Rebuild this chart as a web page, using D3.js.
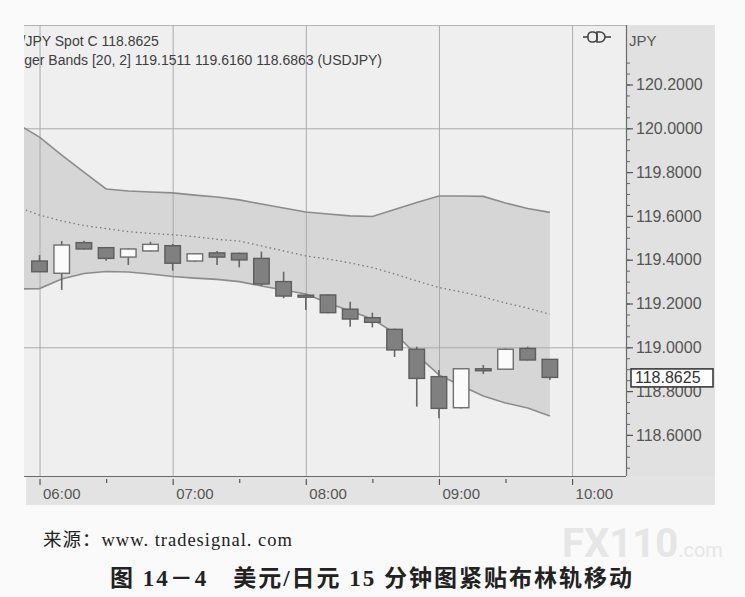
<!DOCTYPE html>
<html>
<head>
<meta charset="utf-8">
<script src="https://cdn.jsdelivr.net/npm/d3@7"></script>
<style>
  body { margin: 0; background: #fafafa; }
  svg { display: block; }
</style>
</head>
<body>
<div id="chart"></div>
<script>
// 10 分鐘一根 K 線 (06:00 - 09:50)
const times = ["06:00", "06:10", "06:20", "06:30", "06:40", "06:50",
               "07:00", "07:10", "07:20", "07:30", "07:40", "07:50",
               "08:00", "08:10", "08:20", "08:30", "08:40", "08:50",
               "09:00", "09:10", "09:20", "09:30", "09:40", "09:50"];
const open  = [119.394, 119.338, 119.478, 119.455, 119.412, 119.440,
               119.464, 119.394, 119.431, 119.429, 119.406, 119.300,
               119.238, 119.239, 119.174, 119.135, 119.082, 118.991,
               118.866, 118.724, 118.902, 118.900, 118.995, 118.945];
const high  = [119.421, 119.485, 119.487, 119.458, 119.452, 119.482,
               119.472, 119.430, 119.440, 119.432, 119.437, 119.345,
               119.242, 119.242, 119.208, 119.158, 119.085, 119.003,
               118.896, 118.905, 118.919, 118.995, 119.003, 118.947];
const low   = [119.344, 119.262, 119.447, 119.395, 119.376, 119.438,
               119.350, 119.390, 119.376, 119.365, 119.280, 119.224,
               119.170, 119.155, 119.094, 119.091, 118.956, 118.729,
               118.676, 118.720, 118.878, 118.898, 118.940, 118.851];
const close = [119.345, 119.467, 119.449, 119.406, 119.449, 119.470,
               119.384, 119.427, 119.412, 119.399, 119.289, 119.234,
               119.235, 119.158, 119.129, 119.114, 118.988, 118.858,
               118.721, 118.902, 118.900, 118.991, 118.942, 118.8625];

// 布林帶 [20, 2]
const bandTimes = ["05:50"].concat(times);
const upperBand  = [120.020, 119.960, 119.878, 119.800, 119.723, 119.714, 119.709,
                    119.705, 119.695, 119.686, 119.673, 119.654, 119.636,
                    119.618, 119.609, 119.600, 119.597, 119.629, 119.661,
                    119.691, 119.691, 119.689, 119.659, 119.634, 119.616];
const middleBand = [119.641, 119.604, 119.577, 119.556, 119.542, 119.528, 119.520,
                    119.514, 119.505, 119.493, 119.485, 119.463, 119.440,
                    119.417, 119.403, 119.385, 119.364, 119.335, 119.303,
                    119.273, 119.253, 119.230, 119.202, 119.179, 119.151];
const lowerBand  = [119.266, 119.268, 119.312, 119.337, 119.346, 119.344, 119.335,
                    119.323, 119.316, 119.310, 119.300, 119.280, 119.262,
                    119.243, 119.202, 119.166, 119.129, 119.065, 118.965,
                    118.874, 118.824, 118.778, 118.746, 118.723, 118.686];

const priceTicks = [118.6, 118.8, 119.0, 119.2, 119.4, 119.6, 119.8, 120.0, 120.2];
const minorPriceTicks = d3.range(0, 38).map(i => +(118.45 + i * 0.05).toFixed(2));
const gridPrices = [119.0, 120.0];
const timeTicks = ["06:00", "06:30", "07:00", "07:30", "08:00", "08:30", "09:00", "09:30", "10:00"];
const hourTicks = ["06:00", "07:00", "08:00", "09:00", "10:00"];

const headerLine1 = "USD/JPY Spot C 118.8625";
const headerLine2 = "Bollinger Bands [20, 2] 119.1511 119.6160 118.6863 (USDJPY)";
const sourceText = "来源：www. tradesignal. com";
const titleText = "图 14－4　美元/日元 15 分钟图紧贴布林轨移动";

const parseTime = d3.timeParse("%H:%M");
const candles = times.map((t, i) => ({
    t: parseTime(t), o: open[i], h: high[i], l: low[i], c: close[i]
}));
const band = bandTimes.map((t, i) => ({
    t: parseTime(t), up: upperBand[i], mid: middleBand[i], lo: lowerBand[i]
}));

const W = 745, H = 597;
const plot = { left: 24, top: 25, right: 626, bottom: 476 };

const x = d3.scaleTime()
    .domain([parseTime("05:53"), new Date(parseTime("10:24").getTime() + 18000)])
    .range([plot.left, plot.right]);
const y = d3.scaleLinear()
    .domain([118.4123, 120.4717])
    .range([plot.bottom, plot.top]);

const svg = d3.select("#chart").append("svg")
    .attr("width", W)
    .attr("height", H);

svg.append("rect").attr("width", W).attr("height", H).attr("fill", "#fafafa");

// 右側價格軸與底部時間軸背景
svg.append("rect")
    .attr("x", plot.right).attr("y", plot.top)
    .attr("width", 715 - plot.right).attr("height", 505 - plot.top)
    .attr("fill", "#e1e1e1");
svg.append("rect")
    .attr("x", plot.left + 2).attr("y", plot.bottom)
    .attr("width", 715 - plot.left - 2).attr("height", 505 - plot.bottom)
    .attr("fill", "#e3e3e3");

// 繪圖區
svg.append("defs").append("clipPath").attr("id", "clip")
    .append("rect")
    .attr("x", plot.left).attr("y", plot.top)
    .attr("width", plot.right - plot.left).attr("height", plot.bottom - plot.top);

const g = svg.append("g").attr("clip-path", "url(#clip)");

g.append("rect")
    .attr("x", plot.left).attr("y", plot.top)
    .attr("width", plot.right - plot.left).attr("height", plot.bottom - plot.top)
    .attr("fill", "#efefef");

// 布林帶區域
const area = d3.area()
    .x(d => x(d.t))
    .y0(d => y(d.lo))
    .y1(d => y(d.up));
g.append("path")
    .datum(band)
    .attr("d", area)
    .attr("fill", "#d6d6d6");

// 格線
g.selectAll(".vgrid")
    .data(hourTicks)
    .enter().append("line")
    .attr("x1", d => x(parseTime(d)) + 0.5)
    .attr("x2", d => x(parseTime(d)) + 0.5)
    .attr("y1", plot.top)
    .attr("y2", plot.bottom)
    .attr("stroke", "#ababab")
    .attr("stroke-width", 1);
g.selectAll(".hgrid")
    .data(gridPrices)
    .enter().append("line")
    .attr("x1", plot.left)
    .attr("x2", plot.right)
    .attr("y1", d => y(d) + 0.5)
    .attr("y2", d => y(d) + 0.5)
    .attr("stroke", "#ababab")
    .attr("stroke-width", 1);

// 上下軌與中軌
const lineUp = d3.line().x(d => x(d.t)).y(d => y(d.up));
const lineLo = d3.line().x(d => x(d.t)).y(d => y(d.lo));
const lineMid = d3.line().x(d => x(d.t)).y(d => y(d.mid));
[lineUp, lineLo].forEach(fn => {
    g.append("path")
        .datum(band)
        .attr("d", fn)
        .attr("fill", "none")
        .attr("stroke", "#8c8c8c")
        .attr("stroke-width", 1.6);
});
g.append("path")
    .datum(band)
    .attr("d", lineMid)
    .attr("fill", "none")
    .attr("stroke", "#7a7a7a")
    .attr("stroke-width", 1.3)
    .attr("stroke-dasharray", "1.5,3");

// K 線
const step = x(parseTime("06:10")) - x(parseTime("06:00"));
const bodyW = step * 0.7;
const cg = g.selectAll(".candle")
    .data(candles)
    .enter().append("g")
    .attr("class", "candle");
cg.append("line")
    .attr("x1", d => x(d.t))
    .attr("x2", d => x(d.t))
    .attr("y1", d => y(d.h))
    .attr("y2", d => y(d.l))
    .attr("stroke", "#666")
    .attr("stroke-width", 1.6);
cg.append("rect")
    .attr("x", d => x(d.t) - bodyW / 2)
    .attr("y", d => y(Math.max(d.o, d.c)))
    .attr("width", bodyW)
    .attr("height", d => Math.max(2, Math.abs(y(d.o) - y(d.c))))
    .attr("fill", d => d.c > d.o ? "#fbfbfb" : "#808080")
    .attr("stroke", d => d.c > d.o ? "#6e6e6e" : "#5e5e5e")
    .attr("stroke-width", 1.4);

// 標題文字 (左側被裁切)
g.append("text")
    .attr("x", -8).attr("y", 46)
    .style("font-family", "Liberation Sans, Arial, sans-serif")
    .style("font-size", "14px")
    .attr("fill", "#3e3e3e")
    .text(headerLine1);
g.append("text")
    .attr("x", -10).attr("y", 65)
    .style("font-family", "Liberation Sans, Arial, sans-serif")
    .style("font-size", "14px")
    .attr("fill", "#3e3e3e")
    .text(headerLine2);

// 連結圖示
const icon = svg.append("g").attr("transform", "translate(583,37)")
    .attr("stroke", "#444").attr("fill", "none").attr("stroke-width", 1.6);
icon.append("line").attr("x1", 0).attr("x2", 5).attr("y1", 0).attr("y2", 0);
icon.append("rect").attr("x", 5).attr("y", -5).attr("width", 9).attr("height", 10).attr("rx", 4);
icon.append("path").attr("d", "M14,-5 h3 a5,5 0 0 1 0,10 h-3 z");
icon.append("line").attr("x1", 22).attr("x2", 28).attr("y1", 0).attr("y2", 0);

// 邊框
svg.append("line")
    .attr("x1", plot.left).attr("x2", plot.right)
    .attr("y1", plot.top + 0.5).attr("y2", plot.top + 0.5)
    .attr("stroke", "#b5b5b5");
svg.append("line")
    .attr("x1", plot.right + 0.5).attr("x2", plot.right + 0.5)
    .attr("y1", plot.top).attr("y2", plot.bottom)
    .attr("stroke", "#6a6a6a").attr("stroke-width", 1.2);

// 時間軸
const xAxis = svg.append("g")
    .attr("transform", `translate(0,${plot.bottom})`)
    .call(d3.axisBottom(x)
        .tickValues(timeTicks.map(parseTime))
        .tickSize(0)
        .tickFormat(""));
xAxis.select(".domain")
    .attr("d", `M${plot.left},0.5H${plot.right}`)
    .attr("stroke", "#6a6a6a").attr("stroke-width", 1.2);
xAxis.selectAll(".tick").append("line")
    .attr("y1", 3).attr("y2", d => d.getMinutes() === 0 ? 9 : 7)
    .attr("stroke", "#555").attr("stroke-width", 1.2);
xAxis.selectAll(".tick")
    .filter(d => d.getMinutes() === 0)
    .append("text")
    .attr("x", 3).attr("y", 23)
    .attr("text-anchor", "start")
    .attr("fill", "#555")
    .style("font-family", "Liberation Sans, Arial, sans-serif")
    .style("font-size", "15px")
    .text(d3.timeFormat("%H:%M"));

// 價格軸
const yAxis = svg.append("g")
    .attr("transform", `translate(${plot.right},0)`);
yAxis.call(d3.axisRight(y)
    .tickValues(minorPriceTicks)
    .tickSize(4)
    .tickFormat(""))
    .call(s => s.select(".domain").remove())
    .selectAll("line").attr("stroke", "#666").attr("x1", 1);
const yMajor = svg.append("g")
    .attr("transform", `translate(${plot.right},0)`)
    .call(d3.axisRight(y)
        .tickValues(priceTicks)
        .tickSize(7)
        .tickPadding(3)
        .tickFormat(d3.format(".4f")));
yMajor.select(".domain").remove();
yMajor.selectAll("line").attr("stroke", "#555").attr("stroke-width", 1.2).attr("x1", 1);
yMajor.selectAll("text")
    .attr("fill", "#555")
    .style("font-family", "Liberation Sans, Arial, sans-serif")
    .style("font-size", "16px");

svg.append("text")
    .attr("x", 629).attr("y", 46)
    .attr("fill", "#555")
    .style("font-family", "Liberation Sans, Arial, sans-serif")
    .style("font-size", "15px")
    .text("JPY");

// 最新價標籤
const last = close[close.length - 1];
svg.append("rect")
    .attr("x", 631).attr("y", y(last) - 8.5)
    .attr("width", 82).attr("height", 18)
    .attr("fill", "#fdfdfd")
    .attr("stroke", "#3a3a3a").attr("stroke-width", 1.6);
svg.append("text")
    .attr("x", 635).attr("y", y(last) + 6)
    .attr("fill", "#333")
    .style("font-family", "Liberation Sans, Arial, sans-serif")
    .style("font-size", "16px")
    .text(d3.format(".4f")(last));

// 水印
const wm = svg.append("text")
    .attr("x", 562).attr("y", 557)
    .attr("fill", "#e6e6e6")
    .style("font-family", "Roboto, Liberation Sans, sans-serif")
    .style("font-weight", "bold");
wm.append("tspan").style("font-size", "40px").text("FX110");
wm.append("tspan").style("font-size", "20px").style("font-weight", "normal").text(".com");

// 來源與圖題
svg.append("text")
    .attr("x", 43).attr("y", 546)
    .attr("fill", "#222")
    .style("font-family", "Liberation Serif, Noto Sans CJK SC, serif")
    .style("font-size", "18.5px")
    .style("letter-spacing", "1px")
    .text(sourceText);
svg.append("text")
    .attr("x", 372).attr("y", 586)
    .attr("text-anchor", "middle")
    .attr("fill", "#222")
    .style("font-family", "Liberation Serif, Noto Sans CJK SC, serif")
    .style("font-weight", "bold")
    .style("font-size", "23px")
    .style("letter-spacing", "2px")
    .text(titleText);
</script>
</body>
</html>
